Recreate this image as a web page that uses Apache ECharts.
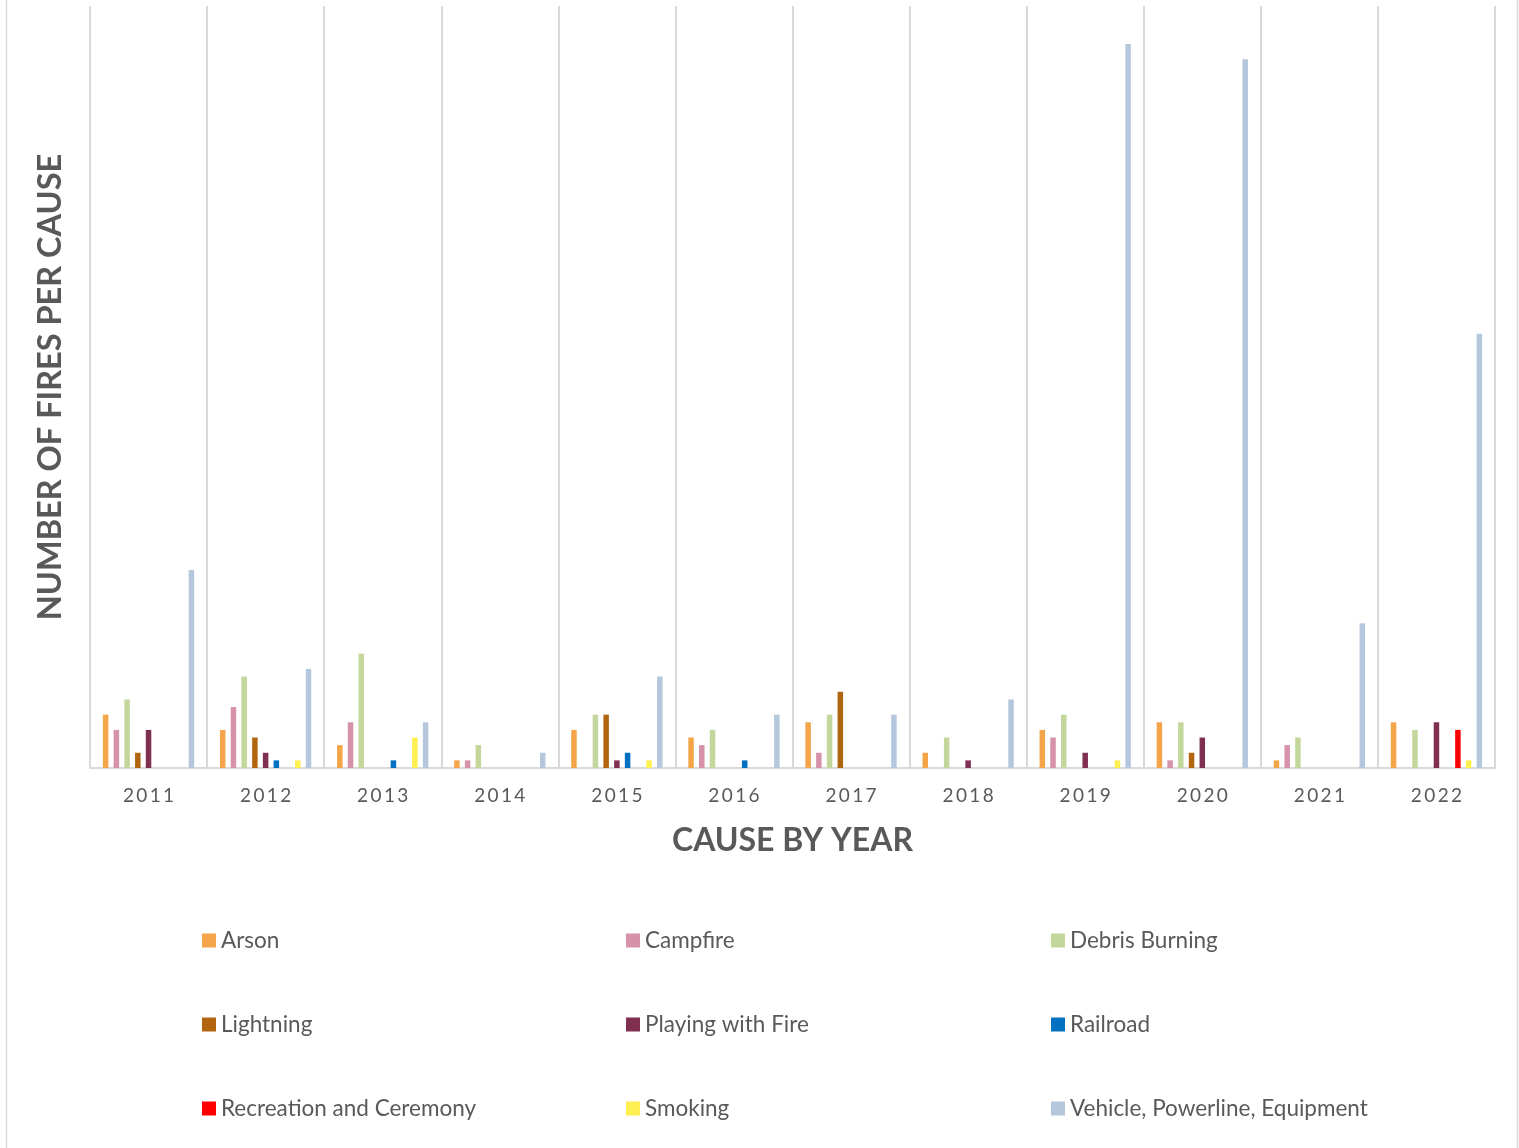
<!DOCTYPE html>
<html>
<head>
<meta charset="utf-8">
<script src="https://cdn.jsdelivr.net/npm/echarts@6/dist/echarts.min.js"></script>
<style>
html,body{margin:0;padding:0;background:#fff;}
#chart{width:1519px;height:1148px;}
</style>
</head>
<body>
<div id="chart"></div>
<script>
const years = ['2011','2012','2013','2014','2015','2016','2017','2018','2019','2020','2021','2022'];
const seriesNames = ['Arson','Campfire','Debris Burning','Lightning','Playing with Fire','Railroad','Recreation and Ceremony','Smoking','Vehicle, Powerline, Equipment'];
const arson      = [7,5,3,1,5,4,6,2,5,6,1,6];
const campfire   = [5,8,6,1,0,3,2,0,4,1,3,0];
const debris     = [9,12,15,3,7,5,7,4,7,6,4,5];
const lightning  = [2,4,0,0,7,0,10,0,0,2,0,0];
const playing    = [5,2,0,0,1,0,0,1,2,4,0,6];
const railroad   = [0,1,1,0,2,1,0,0,0,0,0,0];
const recreation = [0,0,0,0,0,0,0,0,0,0,0,5];
const smoking    = [0,1,4,0,1,0,0,0,1,0,0,1];
const vehicle    = [26,13,6,2,12,7,7,9,95,93,19,57];
const seriesValues = [arson,campfire,debris,lightning,playing,railroad,recreation,smoking,vehicle];
const colors = ['#F4A54A','#D592A8','#C3D69B','#B2650F','#7F2F4F','#0070C0','#FF0000','#FFEF4F','#B4C7DD'];

const FONT = 'Lato, "Open Sans", sans-serif';
const TXT = '#595959';

const chart = echarts.init(document.getElementById('chart'));

const series = seriesNames.map((n,i)=>({
  name:n, type:'bar', data:seriesValues[i],
  barWidth:5.5, barGap:'95%',
  itemStyle:{color:colors[i]},
  emphasis:{disabled:true}
}));

function legendCol(left, names){
  return {
    orient:'vertical', left:left, top:929, itemGap:61, padding:0,
    itemWidth:14, itemHeight:14, icon:'rect',
    textStyle:{fontFamily:FONT, fontSize:22.5, color:TXT},
    data:names, selectedMode:false
  };
}

chart.setOption({
  animation:false,
  backgroundColor:'#fff',
  color:colors,
  grid:{left:90, right:24, top:6, bottom:380, containLabel:false},
  xAxis:{
    type:'category', data:years, boundaryGap:true,
    axisLine:{lineStyle:{color:'#d9d9d9', width:2}},
    axisTick:{show:false},
    splitLine:{show:true, lineStyle:{color:'#d9d9d9', width:2}},
    axisLabel:{fontFamily:FONT, fontSize:19, color:TXT, margin:18,
      formatter:v=>v.split('').join('\u2009')},
    name:'CAUSE BY YEAR', nameLocation:'middle', nameGap:57,
    nameTextStyle:{fontFamily:FONT, fontSize:32, fontWeight:'bold', color:TXT}
  },
  yAxis:{
    type:'value', min:0, max:100,
    axisLine:{show:false}, axisTick:{show:false}, axisLabel:{show:false},
    splitLine:{show:false},
    name:'NUMBER OF FIRES PER CAUSE', nameLocation:'middle', nameGap:23,
    nameTextStyle:{fontFamily:FONT, fontSize:32.5, fontWeight:'bold', color:TXT}
  },
  legend:[
    legendCol(202, ['Arson','Lightning','Recreation and Ceremony']),
    legendCol(626, ['Campfire','Playing with Fire','Smoking']),
    legendCol(1051, ['Debris Burning','Railroad','Vehicle, Powerline, Equipment'])
  ],
  graphic:[{
    type:'rect', left:4, top:-4, silent:true,
    shape:{width:1511, height:1160},
    style:{fill:'none', stroke:'#d9d9d9', lineWidth:1.5}
  }],
  series:series
});
</script>
</body>
</html>
